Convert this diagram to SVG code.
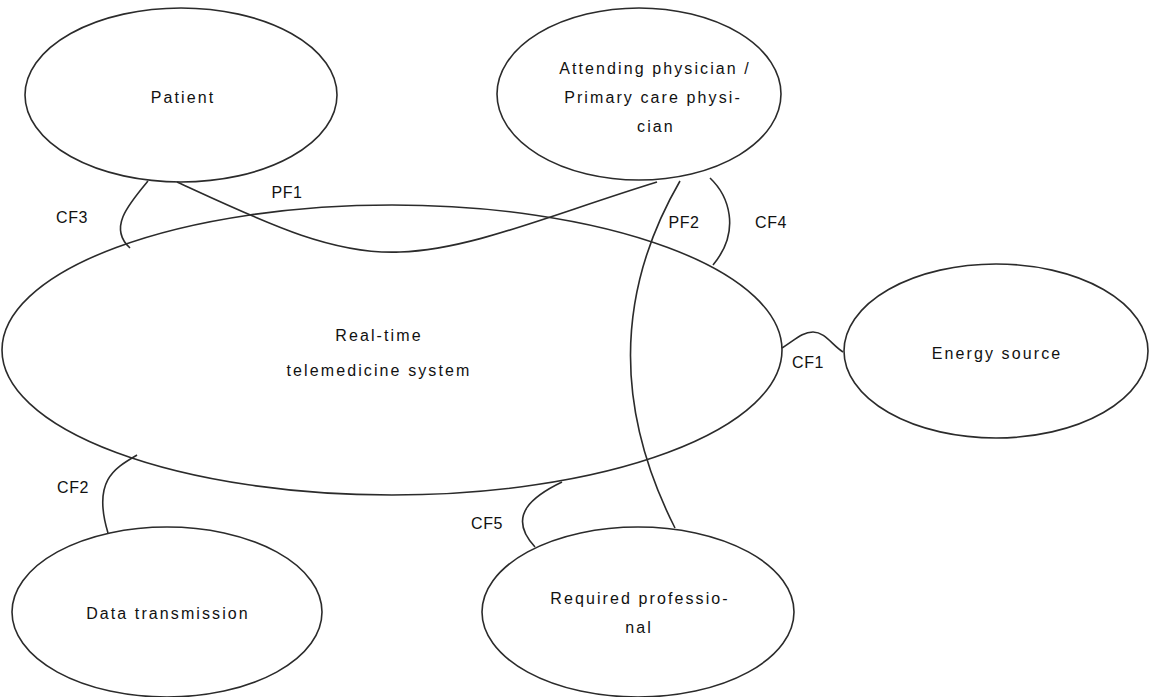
<svg xmlns="http://www.w3.org/2000/svg" width="1149" height="697" viewBox="0 0 1149 697">
<style>
.n{fill:#fff;stroke:#2b2b2b;stroke-width:1.6}
.c{fill:none;stroke:#2b2b2b;stroke-width:1.6}
.t{font-family:"Liberation Sans",Arial,sans-serif;font-size:16px;fill:#111;text-anchor:middle;letter-spacing:2.1px}
.l{font-family:"Liberation Sans",Arial,sans-serif;font-size:16px;fill:#111;text-anchor:middle;letter-spacing:0.6px}
</style>
<rect width="1149" height="697" fill="#fff"/>
<g id="central"><ellipse class="n" cx="392" cy="350" rx="390" ry="145"/>
<text class="t" x="379" y="341">Real-time</text><text class="t" x="379" y="376">telemedicine system</text></g>
<g id="patient"><ellipse class="n" cx="181" cy="95" rx="156" ry="87"/><text class="t" x="183" y="103">Patient</text></g>
<g id="physician"><ellipse class="n" cx="639" cy="94" rx="142" ry="86"/>
<text class="t" x="655" y="74">Attending physician /</text><text class="t" x="653" y="103">Primary care physi-</text><text class="t" x="656" y="132">cian</text></g>
<g id="energy"><ellipse class="n" cx="996" cy="351" rx="152" ry="87"/><text class="t" x="997" y="359">Energy source</text></g>
<g id="data"><ellipse class="n" cx="167" cy="612" rx="155" ry="85"/><text class="t" x="168" y="619">Data transmission</text></g>
<g id="professional"><ellipse class="n" cx="638" cy="612" rx="156" ry="85"/>
<text class="t" x="640" y="604">Required professio-</text><text class="t" x="639" y="633">nal</text></g>
<g id="connectors">
<path class="c" d="M148,181 C128,205 108,228 130,248"/>
<path class="c" d="M177,182 C260,220 330,255 400,252 C470,250 550,215 657,182"/>
<path class="c" d="M680,181 C640,250 595,370 675,528"/>
<path class="c" d="M710,178 C728,195 742,230 713,265"/>
<path class="c" d="M782,348 C795,340 802,332 813,332 C825,332 832,345 843,352"/>
<path class="c" d="M137,455 C115,468 92,480 108,533"/>
<path class="c" d="M562,482 C535,495 505,515 535,547"/>
<text class="l" x="287" y="198">PF1</text>
<text class="l" x="72" y="223">CF3</text>
<text class="l" x="684" y="228">PF2</text>
<text class="l" x="771" y="228">CF4</text>
<text class="l" x="808" y="368">CF1</text>
<text class="l" x="73" y="493">CF2</text>
<text class="l" x="487" y="529">CF5</text>
</g>
</svg>
